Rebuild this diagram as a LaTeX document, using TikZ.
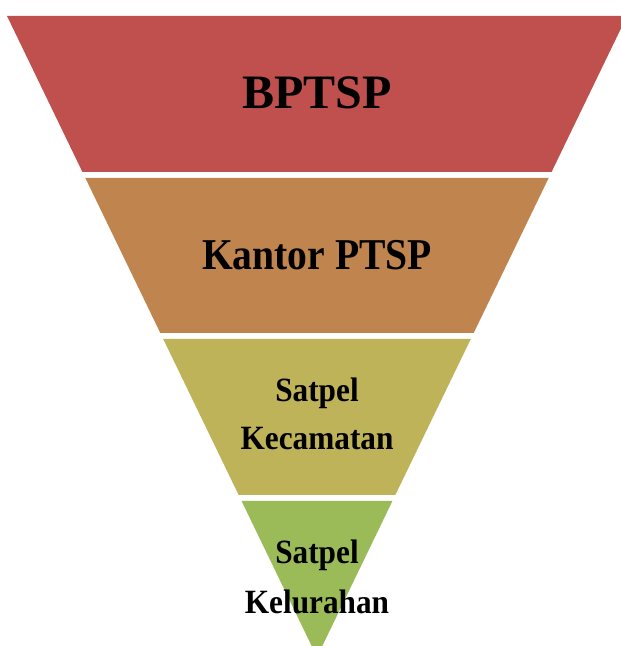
\documentclass[tikz,border=0pt]{standalone}
\usepackage{fontspec}
\setmainfont{Liberation Serif}
\usepackage{graphicx}
\definecolor{bandA}{HTML}{C0504D}
\definecolor{bandB}{HTML}{C0844F}
\definecolor{bandC}{HTML}{BFB35A}
\definecolor{bandD}{HTML}{9BBB59}
\begin{document}
\begin{tikzpicture}[x=1pt,y=1pt,
  lbl/.style={anchor=base,inner sep=0pt,text=black,font=\bfseries}]
\useasboundingbox (0,0) rectangle (621,646);
\clip (0,0) rectangle (621,646);
% triangle: top y=630 (px 16), apex y=-11 (px 657), centre x=317, slope 0.4836
\def\cx{317}
\pgfmathsetmacro{\s}{310/641}
% band edges in picture coords
\foreach \ytop/\ybot/\col in {630/474/bandA, 468/313/bandB, 307/151/bandC, 145/-11/bandD}{
  \pgfmathsetmacro{\wt}{(\ytop+11)*\s}
  \pgfmathsetmacro{\wb}{(\ybot+11)*\s}
  \fill[\col] (\cx-\wt,\ytop) -- (\cx+\wt,\ytop) -- (\cx+\wb,\ybot) -- (\cx-\wb,\ybot) -- cycle;
}
\node[lbl,font=\bfseries\fontsize{48}{48}\selectfont] (t1) at (317,537) {BPTSP};
\node[lbl,font=\bfseries\fontsize{44}{44}\selectfont] (t2) at (317,376) {\scalebox{0.9}[1]{Kantor PTSP}};
\node[lbl,font=\bfseries\fontsize{34}{34}\selectfont] (t3a) at (317,244) {\scalebox{0.92}[1]{Satpel}};
\node[lbl,font=\bfseries\fontsize{34}{34}\selectfont] (t3b) at (317,196) {\scalebox{0.92}[1]{Kecamatan}};
\node[lbl,font=\bfseries\fontsize{34}{34}\selectfont] (t4a) at (317,82) {\scalebox{0.92}[1]{Satpel}};
\node[lbl,font=\bfseries\fontsize{34}{34}\selectfont] (t4b) at (317,32) {\scalebox{0.92}[1]{Kelurahan}};
\end{tikzpicture}
\end{document}
